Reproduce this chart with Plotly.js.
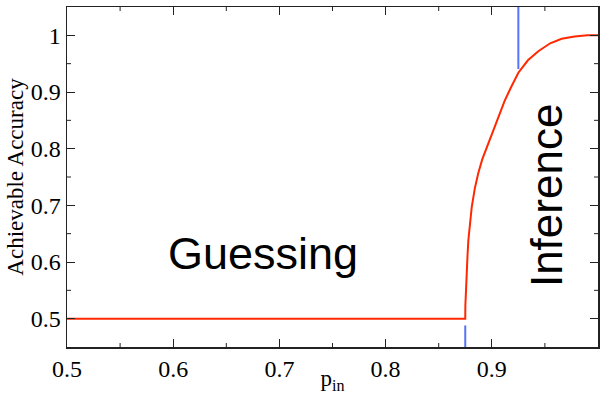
<!DOCTYPE html>
<html>
<head>
<meta charset="utf-8">
<script src="https://cdn.plot.ly/plotly-3.0.1.min.js"></script>
<style>
html,body{margin:0;padding:0;background:#fff;}
#chart{width:601px;height:394px;}
#chart .xtick text, #chart .ytick text { font-family: "Liberation Serif", serif !important; font-size: 24px !important; fill: #000 !important; }
</style>
</head>
<body>
<div id="chart"></div>
<script>
const pIn = [0.5, 0.875, 0.8751, 0.8754, 0.8758, 0.8764, 0.8771, 0.8779, 0.8795, 0.8811, 0.884, 0.8873, 0.891, 0.8951, 0.9, 0.9061, 0.912, 0.918, 0.925, 0.934, 0.9438, 0.955, 0.9658, 0.978, 0.99, 1.0];
const accuracy = [0.5, 0.5, 0.523, 0.542, 0.56, 0.579, 0.61, 0.638, 0.67, 0.697, 0.73, 0.757, 0.781, 0.801, 0.826, 0.857, 0.884, 0.908, 0.934, 0.956, 0.972, 0.986, 0.994, 0.998, 1.0, 1.0];
const markLowX = [0.875, 0.875];
const markLowY = [0.45, 0.488];
const markHighX = [0.925, 0.925];
const markHighY = [0.9405, 1.05];
const xTickVals = [0.5, 0.6, 0.7, 0.8, 0.9, 1.0];
const xTickText = ["0.5", "0.6", "0.7", "0.8", "0.9", "1"];
const yTickVals = [0.5, 0.6, 0.7, 0.8, 0.9, 1.0];
const yTickText = ["0.5", "0.6", "0.7", "0.8", "0.9", "1"];
const xMinorVals = [0.55, 0.65, 0.75, 0.85, 0.95];
const yMinorVals = [0.55, 0.65, 0.75, 0.85, 0.95];

const serif = 'Liberation Serif';
const data = [
  {x: pIn, y: accuracy, mode: 'lines', line: {color: 'rgb(255,40,0)', width: 2}},
  {x: markLowX, y: markLowY, mode: 'lines', line: {color: 'rgb(85,115,250)', width: 2}},
  {x: markHighX, y: markHighY, mode: 'lines', line: {color: 'rgb(85,115,250)', width: 2}}
];
const tickLine = {color: '#222', width: 1};
const shapes = [];
xMinorVals.forEach(function(v){
  shapes.push({type: 'line', xref: 'x', yref: 'paper', x0: v, x1: v, ysizemode: 'pixel', yanchor: 0, y0: 0, y1: 4, line: tickLine});
  shapes.push({type: 'line', xref: 'x', yref: 'paper', x0: v, x1: v, ysizemode: 'pixel', yanchor: 1, y0: 0, y1: -4, line: tickLine});
});
yMinorVals.forEach(function(v){
  shapes.push({type: 'line', xref: 'paper', yref: 'y', y0: v, y1: v, xsizemode: 'pixel', xanchor: 0, x0: 0, x1: 4, line: tickLine});
  shapes.push({type: 'line', xref: 'paper', yref: 'y', y0: v, y1: v, xsizemode: 'pixel', xanchor: 1, x0: 0, x1: -4, line: tickLine});
});
const layout = {
  width: 601, height: 394,
  margin: {l: 67, r: 3, t: 7, b: 47},
  showlegend: false,
  xaxis: {
    range: [0.5, 1.0], tickmode: 'array', tickvals: xTickVals, ticktext: xTickText,
    showgrid: false, zeroline: false, showline: true, linecolor: '#222', linewidth: 1.5,
    mirror: 'ticks', ticks: 'inside', ticklen: 8, tickwidth: 1, tickcolor: '#222',
    tickfont: {family: serif, size: 24, color: '#000'},
    title: {text: 'p<sub>in</sub>', font: {family: serif, size: 23, color: '#000'}, standoff: 0}
  },
  yaxis: {
    range: [0.45, 1.05], tickmode: 'array', tickvals: yTickVals, ticktext: yTickText,
    showgrid: false, zeroline: false, showline: true, linecolor: '#222', linewidth: 1.5,
    mirror: 'ticks', ticks: 'inside', ticklen: 8, tickwidth: 1, tickcolor: '#222',
    tickfont: {family: serif, size: 24, color: '#000'},
    title: {text: 'Achievable Accuracy', font: {family: serif, size: 23, color: '#000'}, standoff: 0}
  },
  shapes: shapes,
  annotations: [
    {x: 0.6847, y: 0.615, xref: 'x', yref: 'y', text: 'Guessing', showarrow: false,
     font: {family: 'Liberation Sans', size: 45, color: '#000'}},
    {x: 0.951, y: 0.718, xref: 'x', yref: 'y', text: 'Inference', showarrow: false, textangle: -90,
     font: {family: 'Liberation Sans', size: 44, color: '#000'}}
  ]
};
Plotly.newPlot('chart', data, layout, {displayModeBar: false, staticPlot: true});
</script>
</body>
</html>
